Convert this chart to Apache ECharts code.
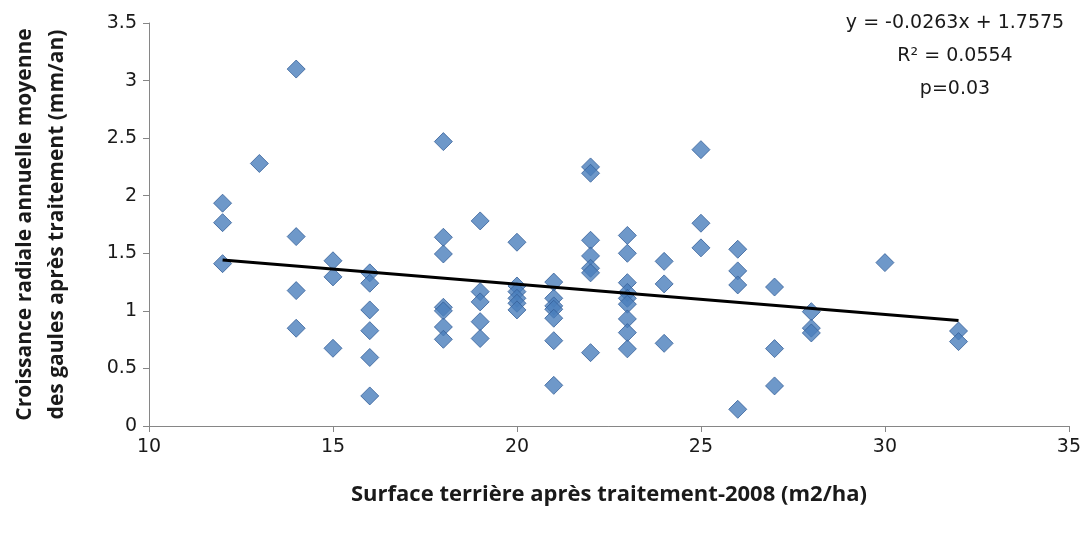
<!DOCTYPE html>
<html>
<head>
<meta charset="utf-8">
<script src="https://cdn.jsdelivr.net/npm/echarts@6/dist/echarts.min.js"></script>
<style>
  html, body { margin: 0; padding: 0; background: #ffffff; }
  #chart { width: 1084px; height: 535px; }
</style>
</head>
<body>
<div id="chart"></div>
<script>
// Basal area after treatment (m2/ha) for each sapling plot
const basalArea = [
  12, 12, 12,
  13,
  14, 14, 14, 14,
  15, 15, 15,
  16, 16, 16, 16, 16, 16,
  18, 18, 18, 18, 18, 18, 18,
  19, 19, 19, 19, 19,
  20, 20, 20, 20, 20, 20,
  21, 21, 21, 21, 21, 21, 21,
  22, 22, 22, 22, 22, 22, 22,
  23, 23, 23, 23, 23, 23, 23, 23, 23,
  24, 24, 24,
  25, 25, 25,
  26, 26, 26, 26,
  27, 27, 27,
  28, 28, 28,
  30,
  32, 32
];

// Mean annual radial growth after treatment (mm/an), same order
const radialGrowth = [
  1.935, 1.766, 1.41,
  2.28,
  3.10, 1.645, 1.176, 0.849,
  1.435, 1.295, 0.675,
  1.33, 1.24, 1.008, 0.828, 0.595, 0.261,
  2.47, 1.639, 1.494, 1.031, 1.0, 0.86, 0.753,
  1.781, 1.167, 1.078, 0.906, 0.76,
  1.596, 1.216, 1.167, 1.109, 1.066, 1.008,
  1.25, 1.109, 1.043, 1.014, 0.936, 0.741, 0.353,
  2.25, 2.195, 1.613, 1.477, 1.37, 1.33, 0.637,
  1.655, 1.5, 1.245, 1.16, 1.109, 1.058, 0.93, 0.811, 0.67,
  1.43, 1.234, 0.718,
  2.40, 1.761, 1.547,
  1.535, 1.347, 1.225, 0.145,
  1.207, 0.672, 0.348,
  0.993, 0.85, 0.808,
  1.419,
  0.825, 0.733
];

// Linear fit reported on the chart
const slope = -0.0263;
const intercept = 1.7575;
const rSquared = '0.0554';
const pValue = '0.03';

// Axis ranges and ticks
const xTicks = { min: 10, max: 35, interval: 5 };
const yTicks = { min: 0, max: 3.5, interval: 0.5 };

const points = basalArea.map((x, i) => [x, radialGrowth[i]]);
const xFitMin = Math.min(...basalArea);
const xFitMax = Math.max(...basalArea);
const fitLine = [
  [xFitMin, slope * xFitMin + intercept],
  [xFitMax, slope * xFitMax + intercept]
];

const TITLE_FONT = '"Open Sans", "Noto Sans", sans-serif';
const LABEL_FONT = '"DejaVu Sans", "Noto Sans", sans-serif';
const AXIS_GREY = '#868686';
const TEXT = '#1a1a1a';

const chart = echarts.init(document.getElementById('chart'), null, { renderer: 'canvas' });

chart.setOption({
  animation: false,
  backgroundColor: '#ffffff',
  grid: { left: 149, right: 13, top: 23, bottom: 109, containLabel: false },
  xAxis: {
    type: 'value',
    min: xTicks.min, max: xTicks.max, interval: xTicks.interval,
    name: 'Surface terrière après traitement-2008 (m2/ha)',
    nameLocation: 'middle',
    nameGap: 58,
    nameTextStyle: { fontFamily: TITLE_FONT, fontSize: 22, fontWeight: 'bold', color: TEXT },
    axisLine: { show: true, lineStyle: { color: AXIS_GREY, width: 1 } },
    axisTick: { show: true, inside: false, length: 6, lineStyle: { color: AXIS_GREY } },
    axisLabel: { fontFamily: LABEL_FONT, fontSize: 19, color: TEXT, margin: 12 },
    splitLine: { show: false }
  },
  yAxis: {
    type: 'value',
    min: yTicks.min, max: yTicks.max, interval: yTicks.interval,
    name: 'Croissance radiale annuelle moyenne\ndes gaules après traitement (mm/an)',
    nameLocation: 'middle',
    nameRotate: 90,
    nameGap: 76,
    nameTextStyle: { fontFamily: TITLE_FONT, fontSize: 21, fontWeight: 'bold', color: TEXT, lineHeight: 32, align: 'center' },
    axisLine: { show: true, lineStyle: { color: AXIS_GREY, width: 1 } },
    axisTick: { show: true, inside: false, length: 6, lineStyle: { color: AXIS_GREY } },
    axisLabel: { fontFamily: LABEL_FONT, fontSize: 19, color: TEXT, margin: 12 },
    splitLine: { show: false }
  },
  graphic: [
    {
      type: 'text',
      x: 955,
      y: 7,
      style: {
        text: 'y = ' + slope + 'x + ' + intercept + '\nR² = ' + rSquared + '\np=' + pValue,
        fontFamily: LABEL_FONT,
        fontSize: 19,
        lineHeight: 33,
        fill: TEXT,
        align: 'center',
        verticalAlign: 'top'
      }
    }
  ],
  series: [
    {
      type: 'scatter',
      data: points,
      symbol: 'diamond',
      symbolSize: 18,
      itemStyle: { color: '#4a7ebb', borderColor: '#36609a', borderWidth: 1 },
      z: 2
    },
    {
      type: 'line',
      data: fitLine,
      symbol: 'none',
      lineStyle: { color: '#000000', width: 3 },
      z: 3
    }
  ]
});
</script>
</body>
</html>
